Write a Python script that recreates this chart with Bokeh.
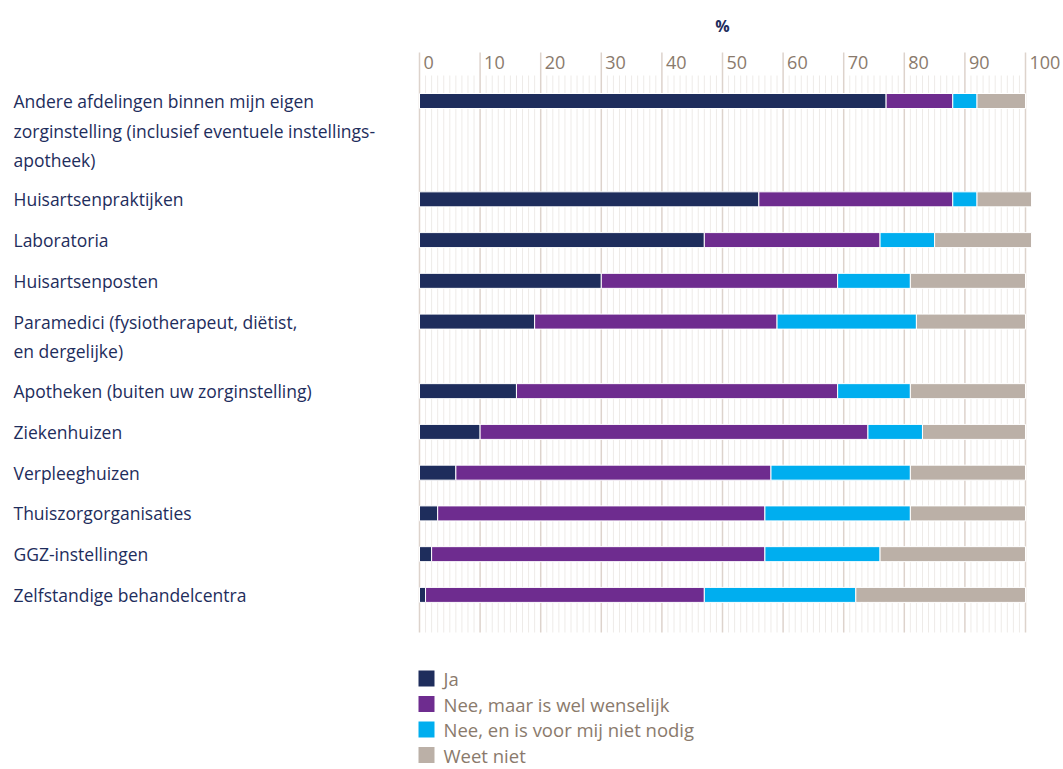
from bokeh.plotting import figure
from bokeh.models import Range1d, ColumnDataSource
from bokeh.embed import file_html
from bokeh.resources import INLINE
from bokeh.core.properties import value

# ---------------- data ----------------
categories = [
    "Andere afdelingen binnen mijn eigen\nzorginstelling (inclusief eventuele instellings-\napotheek)",
    "Huisartsenpraktijken",
    "Laboratoria",
    "Huisartsenposten",
    "Paramedici (fysiotherapeut, diëtist,\nen dergelijke)",
    "Apotheken (buiten uw zorginstelling)",
    "Ziekenhuizen",
    "Verpleeghuizen",
    "Thuiszorgorganisaties",
    "GGZ-instellingen",
    "Zelfstandige behandelcentra",
]
series_names = ["Ja", "Nee, maar is wel wenselijk", "Nee, en is voor mij niet nodig", "Weet niet"]
ja = [77, 56, 47, 30, 19, 16, 10, 6, 3, 2, 1]
nee_wenselijk = [11, 32, 29, 39, 40, 53, 64, 52, 54, 55, 46]
nee_niet_nodig = [4, 4, 9, 12, 23, 12, 9, 23, 24, 19, 25]
weet_niet = [8, 9, 16, 19, 18, 19, 17, 19, 19, 24, 28]
tick_values = [0, 10, 20, 30, 40, 50, 60, 70, 80, 90, 100]
tick_labels = ["0", "10", "20", "30", "40", "50", "60", "70", "80", "90", "100"]
axis_title = "%"

# ---------------- style / layout ----------------
colors = ["#1e2d5c", "#6e2c8f", "#00aeef", "#bbb0a7"]
NAVY = "#1e2d5c"
BROWN = "#8a7a6c"
MAJOR = "#ddd3cc"
MINOR = "#eeebe8"
FONT = "Open Sans"

W, H = 1063, 769
PAGE0 = 0
X0_PX, X100_PX = 419.0, 1025.0
ppu = (X100_PX - X0_PX) / 100.0
x_start = (PAGE0 - X0_PX) / ppu
x_end = (PAGE0 + W - X0_PX) / ppu

ROW0, ROW_STEP, EXTRA_LINE, LINE_H = 100.5, 40.75, 28.8, 29.5
row_y = []
y = ROW0
for i, c in enumerate(categories):
    if i > 0:
        y += ROW_STEP + (categories[i - 1].count("\n")) * EXTRA_LINE
    row_y.append(y)

p = figure(width=W, height=H, x_range=Range1d(x_start, x_end),
           y_range=Range1d(PAGE0 + H, PAGE0), output_backend="svg",
           toolbar_location=None, min_border=0)
p.axis.visible = False
p.grid.visible = False
p.outline_line_color = None
p.background_fill_color = "white"
p.border_fill_color = "white"

GRID_TOP_MAJOR, GRID_TOP_MINOR, GRID_BOTTOM = 52, 75, 632
minor_x = [v for v in range(0, 101) if v % 10]
p.segment(x0=minor_x, y0=[GRID_TOP_MINOR] * len(minor_x), x1=minor_x,
          y1=[GRID_BOTTOM] * len(minor_x), line_color=MINOR, line_width=1)
p.segment(x0=tick_values, y0=[GRID_TOP_MAJOR] * len(tick_values), x1=tick_values,
          y1=[GRID_BOTTOM] * len(tick_values), line_color=MAJOR, line_width=1.5)

# tick labels and title
p.text(x=tick_values, y=[62] * len(tick_values), text=tick_labels, x_offset=4,
       text_align="left", text_baseline="middle", text_font=value(FONT),
       text_font_size="18px", text_color=BROWN)
p.text(x=[50], y=[25], text=[axis_title], text_align="center", text_baseline="middle",
       text_font=value(FONT), text_font_size="16px", text_font_style="bold", text_color=NAVY)

# bars
src = ColumnDataSource(dict(y=row_y, ja=ja, wens=nee_wenselijk, niet=nee_niet_nodig, weet=weet_niet))
p.hbar_stack(["ja", "wens", "niet", "weet"], y="y", height=15, color=colors,
             line_color="white", line_width=1, source=src)

# category labels
lx, ly, lt = [], [], []
label_x = (13 - X0_PX) / ppu
for yy, c in zip(row_y, categories):
    for j, line in enumerate(c.split("\n")):
        lx.append(label_x)
        ly.append(yy + j * LINE_H)
        lt.append(line)
p.text(x=lx, y=ly, text=lt, text_align="left", text_baseline="middle",
       text_font=value(FONT), text_font_size="17.5px", text_color=NAVY)

# legend
LEG_Y0, LEG_STEP = 678, 25.5
leg_y = [LEG_Y0 + i * LEG_STEP for i in range(len(series_names))]
p.scatter(x=[(426 - X0_PX) / ppu] * 4, y=leg_y, marker="square", size=16,
          color=colors, line_color=None)
p.text(x=[(443 - X0_PX) / ppu] * 4, y=leg_y, text=series_names, text_align="left",
       text_baseline="middle", text_font=value(FONT), text_font_size="18.5px", text_color=BROWN)

open("out.html", "w").write(file_html(p, INLINE))
